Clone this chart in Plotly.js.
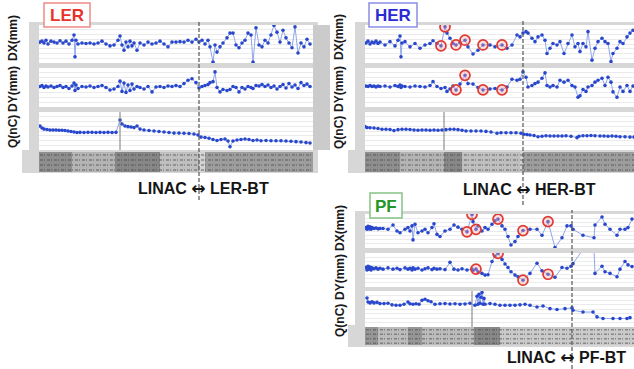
<!DOCTYPE html>
<html><head><meta charset="utf-8">
<script src="https://cdn.plot.ly/plotly-3.0.1.min.js"></script>
<style>html,body{margin:0;padding:0;background:#fff;}#chart{width:634px;height:369px;}</style>
</head><body><div id="chart"></div>
<script>
// ---------------- DATA ----------------
const panelNames = ["LER", "HER", "PF"];
const axisTitles = ["DX(mm)", "DY(mm)", "Q(nC)"];
const boundaryFrom = "LINAC";
const boundaryArrow = "\u2194";
const boundaryTo = ["LER-BT", "HER-BT", "PF-BT"];

// LER (position along line, arbitrary units)
const lerS = [1,3,5,7,9,12,15,18,21,24,27,30,33,35,36,37,39,43,47,51,55,59,63,67,71,75,79,81,83,85,87,89,91,93,95,98,101,105,109,113,117,121,125,129,133,137,141,145,149,153,157,160,163,166,169,171,174,176,178,181,184,188,191,194,197,200,203,206,209,212,214,217,220,223,226,229,232,235,238,241,244,247,250,253,256,259,262,265,268,271];
const lerDX = [0.4,0.6,0.2,0.8,0.0,0.6,0.4,0.2,0.7,0.2, 0.6,0.0,0.8,1.9,-2.7,0.8,0.0,0.2,0.1,0.2, 0.0,0.2,0.6,0.0,-0.4,-0.2,0.8,1.7,-0.2,-1.3, 0.4,-0.6,0.6,-0.4,0.2,-1.3,0.2,-0.2,0.4,0.0, 0.2,0.6,0.0,-0.6,0.4,0.4,0.5,0.4,0.8,0.4, 1.0,0.4,0.8,0.0,0.8,-0.6,-3.8,-0.2,-1.7,-0.6, 0.2,1.3,2.3,2.3,-0.2,-0.8,0.2,0.8,2.3,1.9, -3.8,3.4,-0.2,-0.6,0.8,0.2,1.9,3.9,2.5,0.4, 2.9,1.3,0.2,-0.8,3.6,-1.9,0.2,-0.6,1.0,0.0];
const lerDY = [0.2,0.4,0.0,0.3,0.1,0.3,0.0,0.2,0.4,0.0, 0.2,-0.2,0.3,0.9,-0.6,0.5,-0.2,0.2,0.1,0.3, 0.0,0.2,0.4,0.0,-0.5,-0.3,0.2,1.3,-0.8,0.9, -1.0,0.5,-0.6,0.7,-0.3,0.2,0.0,-0.3,0.2,-0.9, 0.1,0.2,0.0,0.3,0.2,0.4,0.2,0.8,1.5,1.8, 1.0,-0.1,0.2,0.4,0.6,1.0,1.2,3.2,0.0,-0.9, -0.4,-0.6,-0.4,0.2,0.0,-0.9,0.0,-0.3,0.2,0.0, -0.2,0.4,0.3,0.6,0.2,0.5,0.0,0.3,-0.3,0.2, 0.6,-0.1,0.8,0.1,0.5,-0.2,1.0,0.4,0.7,0.2];
const lerQS = [1,3,5,8,11,14,17,20,23,26,29,32,35,38,41,45,49,53,57,61,65,69,73,77,81,83,86,89,92,95,98,101,105,110,115,120,125,130,135,140,145,150,155,159,162,166,170,174,178,182,186,189,191,194,198,202,206,210,214,218,222,227,232,237,242,247,252,257,262,267,271];
const lerQ = [1.26,1.16,1.10,1.08,1.05,1.05,1.05,1.04,1.04,1.03, 1.00,0.97,0.95,0.92,0.93,0.92,0.93,0.93,0.92,0.93, 0.92,0.93,0.92,0.93,1.58,1.37,1.26,1.23,1.21,1.18, 1.26,1.10,1.05,1.03,1.00,0.97,0.95,0.92,0.89,0.89, 0.88,0.87,0.84,0.79,0.68,0.66,0.62,0.55,0.50,0.55, 0.58,0.47,0.17,0.47,0.53,0.55,0.58,0.55,0.50,0.53, 0.49,0.50,0.49,0.49,0.49,0.47,0.46,0.44,0.42,0.39,0.37];
const lerBoundary = 160;
const lerQDivider = 81;

// HER
const herS = [1,3,5,7,9,11,13,15,20,25,30,33,35,36,37,40,45,50,55,60,65,68,72,76,80,82,85,88,91,95,100,103,108,113,118,125,130,137,142,147,152,155,158,161,163,167,170,173,177,180,182,185,188,192,195,199,203,207,210,213,215,218,221,223,227,230,233,237,240,243,246,248,252,255,258,262,265,268];
const herDX = [0.2,0.6,0.0,0.4,0.2,0.6,0.1,0.4,-0.2,0.5, -0.4,0.8,1.7,-2.7,0.2,0.5,-0.6,0.1,-0.9,-0.2, 0.1,0.7,0.1,-0.4,3.6,2.3,1.2,0.1,-0.2,0.3, 0.8,-0.6,-2.1,-1.3,-0.2,-0.2,-0.6,-0.2,-0.9,-0.2, 1.9,1.5,2.3,2.6,2.3,1.2,0.5,1.5,1.9,0.8, -2.0,-0.9,0.1,-0.2,0.5,-2.0,0.1,1.9,-0.6,0.1, -1.6,0.1,-0.6,2.6,-3.4,-0.9,0.5,1.2,0.5,0.1, -3.7,-2.0,-0.9,0.5,0.1,1.5,2.3,2.9];
const herDY = [0.3,0.2,0.4,0.2,0.3,0.1,0.3,0.2,0.3,0.1, 0.4,0.2,0.5,0.0,0.3,0.2,0.1,0.3,0.2,0.1, 0.4,1.2,0.2,-0.2,0.0,-0.8,-0.3,0.3,-0.5,0.7, 2.5,0.8,0.7,0.0,-0.5,-0.3,-0.2,-0.5,0.1,1.7, 1.5,1.7,3.2,2.1,0.1,0.4,0.8,1.1,1.9,3.0, 0.4,0.1,0.4,0.1,1.5,1.1,1.5,0.4,0.1,-2.0, -1.7,-0.4,-0.8,0.1,0.4,1.1,1.5,1.9,0.4,2.1, 1.1,-0.9,-2.0,0.1,-0.8,0.4,-0.8,0.3];
const herQS = [0,2,5,9,13,17,21,25,29,33,37,41,45,49,53,57,61,65,69,73,77,81,85,89,93,97,101,106,111,116,121,126,132,136,141,146,151,156,159,162,165,169,173,177,181,185,189,193,197,201,206,212,214,218,222,226,230,235,239,243,247,251,255,260,265,269];
const herQ = [1.23,1.18,1.17,1.16,1.13,1.09,1.09,1.08,1.02,1.07, 1.09,1.09,1.08,1.05,1.04,1.05,1.05,1.04,1.05,1.04, 1.05,1.07,1.09,1.09,1.07,1.04,1.00,1.00,1.00,1.00, 0.98,0.95,0.88,0.91,0.91,0.91,0.91,0.88,0.83,0.81, 0.79,0.76,0.70,0.72,0.75,0.74,0.74,0.74,0.74,0.75, 0.72,0.65,0.72,0.75,0.75,0.76,0.75,0.74,0.74,0.72, 0.74,0.72,0.70,0.70,0.68,0.68];
const herDXCircled = [23,24,28,30,34,37];
const herDYCircled = [28,30,34,37];
const herBoundary = 158;
const herQDivider = 79;

// PF
const pfS = [1,2,3,4,5,6,7,9,11,13,15,18,23,28,32,35,40,43,45,47,48,50,53,57,60,63,67,69,72,75,80,85,89,93,97,102,107,108,111,113,117,120,123,127,130,133,137,140,143,146,150,153,158,165,172,177,183,190,197,202,206,208,218,229,230,237,240,245,252,255,260,263,267];
const pfDX = [0.8,0.4,1.1,0.5,1.0,0.4,0.8,0.6,0.7,0.5, 0.6,0.6,0.4,1.4,0.0,-0.4,0.4,0.8,0.0,1.2, -2.1,1.6,-0.4,0.0,0.4,-0.4,0.8,1.7,-0.8,-1.3, 0.0,0.4,1.4,0.9,0.4,-0.2,3.9,2.2,0.4,1.2, 0.0,0.8,0.4,1.6,2.4,2.8,1.2,0.4,-1.3,-3.3, -2.5,-1.3,0.1,0.4,0.4,-1.0,2.2,-3.9,-1.6,1.2, 1.2,0.4,-1.0,-1.6,1.4,3.3,1.6,0.4,-1.0,0.4, 0.4,0.8,2.8];
const pfDY = [0.6,0.0,0.9,0.2,0.7,0.0,0.5,0.3,0.5,0.2, 0.4,0.2,0.5,0.2,0.4,0.1,0.5,0.2,0.4,0.0, 0.5,0.2,0.4,0.0,0.3,0.5,0.1,0.4,0.2,0.3, 0.1,1.8,0.2,0.0,0.3,0.0,0.2,-0.1,0.2,-0.4, -0.8,-1.2,-1.1,2.0,3.3,3.9,2.5,1.4,0.6,-0.4, -1.2,-1.6,-2.4,-0.8,1.6,-0.2,-1.0,-1.7,0.6,0.4, 0.9,1.5,4.8,4.8,-0.8,0.9,-0.4,-0.8,-1.6,0.2, 2.0,1.2,0.8];
const pfQS = [2,3,5,7,9,12,15,19,23,27,31,35,39,43,45,48,51,54,57,60,63,66,70,75,80,85,90,95,100,105,110,112,113,114,115,116,117,118,119,120,125,130,135,140,145,150,155,160,165,172,178,185,192,200,207,208,218,228,232,238,248,255,262,265];
const pfQ = [1.61,1.39,1.34,1.40,1.34,1.37,1.30,1.30,1.32,1.23, 1.21,1.21,1.26,1.39,1.29,1.26,1.29,1.26,1.48,1.54, 1.46,1.40,1.26,1.29,1.30,1.28,1.29,1.26,1.28,1.32, 1.21,1.71,1.26,1.82,1.32,1.65,1.91,1.26,1.59,1.26, 1.30,1.26,1.21,1.21,1.21,1.21,1.23,1.26,1.21,1.11, 1.17,1.02,0.97,1.02,1.06,0.93,0.83,0.83,0.56,0.47, 0.47,0.47,0.47,0.52];
const pfDXCircled = [35,36,38,45,52,56];
const pfDYCircled = [38,45,52,56];
const pfBoundary = 207;
const pfQDivider = 107;

// ---------------- LAYOUT HELPERS ----------------
const W = 634, H = 369;
const px = x => x / W;
const py = y => 1 - y / H;
const LINE = '#8fa6ea', MARK = '#2847cc', RED = '#e03a30';
const FONT = 'Liberation Sans, Arial, sans-serif';

const panels = [
  {name: panelNames[0], color: '#e8322a', border: '#ee8a86', box: [44, 3, 90, 27], x: [39, 313], rows: [[25, 63], [68, 107], [112, 150]], strip: [152, 172], frame: [29, 22, 318, 173], labelX: 13, titleY: [38, 89, 132], to: boundaryTo[0], labelPos: [203, 188], dashY: [20, 200], xr: [0, 274],
    s: lerS, dx: lerDX, dy: lerDY, qs: lerQS, q: lerQ, dxC: [], dyC: [], boundary: lerBoundary, qdiv: lerQDivider},
  {name: panelNames[1], color: '#2b2bd6', border: '#8c8ce6', box: [369, 3, 417, 27], x: [365, 634], rows: [[25, 63], [68, 107], [112, 150]], strip: [152, 172], frame: [355, 22, 634, 173], labelX: 339, titleY: [37, 89, 133], to: boundaryTo[1], labelPos: [529, 189], dashY: [20, 205], xr: [0, 269],
    s: herS, dx: herDX, dy: herDY, qs: herQS, q: herQ, dxC: herDXCircled, dyC: herDYCircled, boundary: herBoundary, qdiv: herQDivider},
  {name: panelNames[2], color: '#23962b', border: '#86c286', box: [370, 193, 402, 218], x: [365, 634], rows: [[214, 248], [253, 287], [291, 327]], strip: [327, 345], frame: [355, 211, 634, 347], labelX: 340, titleY: [228, 277, 321], to: boundaryTo[2], labelPos: [566, 357], dashY: [210, 369], xr: [0, 269],
    s: pfS, dx: pfDX, dy: pfDY, qs: pfQS, q: pfQ, dxC: pfDXCircled, dyC: pfDYCircled, boundary: pfBoundary, qdiv: pfQDivider}
];

// dark texture blocks in label strips (pixel x ranges)
const stripBlocks = [
  [[39, 72, 0.45], [72, 115, 0.2], [115, 160, 0.5], [160, 199, 0.12], [205, 313, 0.35]],
  [[365, 400, 0.45], [400, 444, 0.2], [444, 462, 0.5], [462, 520, 0.12], [523, 634, 0.35]],
  [[365, 378, 0.4], [378, 408, 0.15], [408, 422, 0.4], [422, 474, 0.15], [474, 500, 0.5], [500, 634, 0.05]]
];

const layout = {
  width: W, height: H, margin: {l: 0, r: 0, t: 0, b: 0},
  paper_bgcolor: '#ffffff', plot_bgcolor: 'rgba(0,0,0,0)', showlegend: false,
  font: {family: FONT, color: '#111'},
  shapes: [], annotations: []
};
const data = [];
const rect = (x0, y0, x1, y1, fill) => ({type: 'rect', xref: 'paper', yref: 'paper', x0: px(x0), x1: px(x1), y0: py(y1), y1: py(y0), fillcolor: fill, line: {width: 0}, layer: 'below'});

panels.forEach((p, pi) => {
  const [fx0, fy0, fx1, fy1] = p.frame;
  layout.shapes.push(rect(fx0, fy0, fx1, fy1, '#d7d7d7'));
  layout.shapes.push(rect(fx0 - 7, p.strip[0] - 2, p.x[0], fy1, '#d7d7d7'));
  if (pi === 0) layout.shapes.push(rect(313, 25, 330, 150, '#cbcbcb'));
  p.rows.forEach(r => layout.shapes.push(rect(p.x[0], r[0], p.x[1], r[1], '#ffffff')));
  const [sy0, sy1] = p.strip;
  layout.shapes.push(rect(p.x[0], sy0, p.x[1], sy1, '#d2d2d2'));
  stripBlocks[pi].forEach(b => layout.shapes.push(rect(b[0], sy0, b[1], sy1, 'rgba(60,60,60,' + b[2] + ')')));
  const nRows = 4;
  for (let r = 0; r < nRows; r++) {
    const yy = sy0 + (sy1 - sy0) * (r + 0.6) / nRows;
    layout.shapes.push({type: 'line', xref: 'paper', yref: 'paper', x0: px(p.x[0] + 1), x1: px(p.x[1]), y0: py(yy), y1: py(yy), line: {color: 'rgba(70,70,70,0.5)', width: 1.5, dash: '3px,1px,1px,2px'}, layer: 'below'});
  }

  const kinds = [{v: p.dx, s: p.s, c: p.dxC, r: [-4, 4], d: 1}, {v: p.dy, s: p.s, c: p.dyC, r: [-4, 4], d: 1}, {v: p.q, s: p.qs, c: [], r: [0, 2], d: 0.25}];
  kinds.forEach((k, ki) => {
    const n = pi * 3 + ki + 1;
    const xk = n === 1 ? 'xaxis' : 'xaxis' + n;
    const yk = n === 1 ? 'yaxis' : 'yaxis' + n;
    const xr = n === 1 ? 'x' : 'x' + n;
    const yr = n === 1 ? 'y' : 'y' + n;
    const [ry0, ry1] = p.rows[ki];
    layout[xk] = {domain: [px(p.x[0]), px(p.x[1])], range: p.xr, showgrid: false, zeroline: false, showticklabels: false, showline: false, ticks: '', anchor: yr};
    layout[yk] = {domain: [py(ry1), py(ry0)], range: k.r, dtick: k.d, showgrid: true, gridcolor: '#ebebeb', gridwidth: 1, zeroline: false, showticklabels: false, showline: false, ticks: '', anchor: xr};
    data.push({x: k.s, y: k.v, xaxis: xr, yaxis: yr, mode: 'lines+markers', type: 'scatter', hoverinfo: 'skip',
      line: {color: LINE, width: 1}, marker: {color: MARK, size: 3.6}});
    if (k.c.length) {
      data.push({x: k.c.map(i => k.s[i]), y: k.c.map(i => k.v[i]), xaxis: xr, yaxis: yr, mode: 'markers', type: 'scatter', hoverinfo: 'skip',
        marker: {symbol: 'circle', size: 10, color: 'rgba(255,170,170,0.35)', line: {color: RED, width: 1.7}}});
    }
    layout.annotations.push({xref: 'paper', yref: 'paper', x: px(p.labelX), y: py(p.titleY[ki]), text: axisTitles[ki], showarrow: false, textangle: -90,
      font: {size: 12, color: '#1a1a1a', family: FONT, weight: 'bold'}, xanchor: 'center', yanchor: 'middle'});
    if (ki === 2) {
      layout.shapes.push({type: 'line', xref: xr, yref: yr + ' domain', x0: p.qdiv, x1: p.qdiv, y0: 0, y1: 1, line: {color: '#7a7a7a', width: 1}});
    }
  });
  const xr0 = pi === 0 ? 'x' : 'x' + (pi * 3 + 1);
  layout.shapes.push({type: 'line', xref: xr0, yref: 'paper', x0: p.boundary, x1: p.boundary, y0: py(p.dashY[1]), y1: py(p.dashY[0]), line: {color: '#555', width: 1.2, dash: '4px,2px'}});
  const [bx0, by0, bx1, by1] = p.box;
  layout.shapes.push({type: 'rect', xref: 'paper', yref: 'paper', x0: px(bx0), x1: px(bx1), y0: py(by1), y1: py(by0), fillcolor: '#ffffff', line: {color: p.border, width: 1.5}});
  layout.annotations.push({xref: 'paper', yref: 'paper', x: px((bx0 + bx1) / 2), y: py((by0 + by1) / 2 + 0.5), text: p.name, showarrow: false,
    font: {size: 17, color: p.color, family: FONT, weight: 'bold'}, xanchor: 'center', yanchor: 'middle'});
  const label = boundaryFrom + ' <span style="font-family:DejaVu Sans;font-size:17px">' + boundaryArrow + '</span> ' + p.to;
  layout.annotations.push({xref: 'paper', yref: 'paper', x: px(p.labelPos[0]), y: py(p.labelPos[1]), text: label, showarrow: false,
    font: {size: 16, color: '#151515', family: FONT, weight: 'bold'}, xanchor: 'center', yanchor: 'middle'});
});

Plotly.newPlot('chart', data, layout, {staticPlot: true, displayModeBar: false});
</script>
</body></html>
